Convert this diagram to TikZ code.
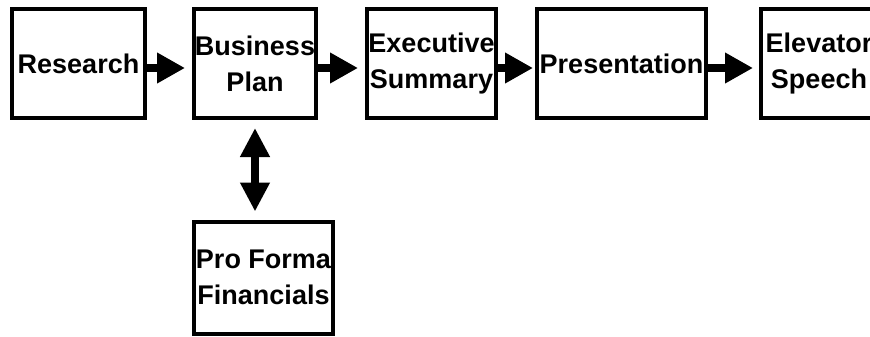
\documentclass[tikz,border=0pt]{standalone}
\usepackage{fontspec}
\setmainfont{Liberation Sans}
\usepackage{tikz}
\usetikzlibrary{arrows.meta, positioning, calc}
\tikzstyle{stage} = [rectangle, draw=black, line width=4pt, fill=white, align=center, inner sep=0pt, font=\bfseries\fontsize{27}{36}\selectfont]
\tikzstyle{flow} = [line width=8pt, -{Triangle[length=28pt, width=29pt]}]
\tikzstyle{biflow} = [line width=8pt, {Triangle[length=29pt, width=28pt]}-{Triangle[length=29pt, width=28pt]}]

\begin{document}
\begin{tikzpicture}[x=1pt, y=-1pt]
    \clip (0,0) rectangle (870,337);
    \fill[white] (0,0) rectangle (870,337);

    % Main row of stages
    \node[stage, minimum width=133pt, minimum height=109pt] (research) at (78.5, 63.5) {Research};
    \node[stage, minimum width=122pt, minimum height=109pt] (bplan) at (255, 63.5) {Business\\Plan};
    \node[stage, minimum width=129pt, minimum height=109pt] (exec) at (431.5, 63.5) {Executive\\Summary};
    \node[stage, minimum width=169pt, minimum height=109pt] (pres) at (621.5, 63.5) {Presentation};
    \node[stage, minimum width=116pt, minimum height=109pt] (elev) at (819, 63.5) {Elevator\\Speech};

    % Financials below the plan
    \node[stage, minimum width=139pt, minimum height=112pt] (fin) at (263.5, 277.5) {Pro Forma\\Financials};

    % Connections
    \draw[flow, shorten >=7pt] ([yshift=-4.5pt]research.east) -- ([yshift=-4.5pt]bplan.west);
    \draw[flow, shorten >=7pt] ([yshift=-4.5pt]bplan.east) -- ([yshift=-4.5pt]exec.west);
    \draw[flow, shorten >=2pt] ([yshift=-4.5pt]exec.east) -- ([yshift=-4.5pt]pres.west);
    \draw[flow, shorten >=6pt] ([yshift=-4.5pt]pres.east) -- ([yshift=-4.5pt]elev.west);
    \draw[biflow, shorten <=8pt, shorten >=8pt] (bplan.south) -- (bplan.south |- fin.north);
\end{tikzpicture}
\end{document}
